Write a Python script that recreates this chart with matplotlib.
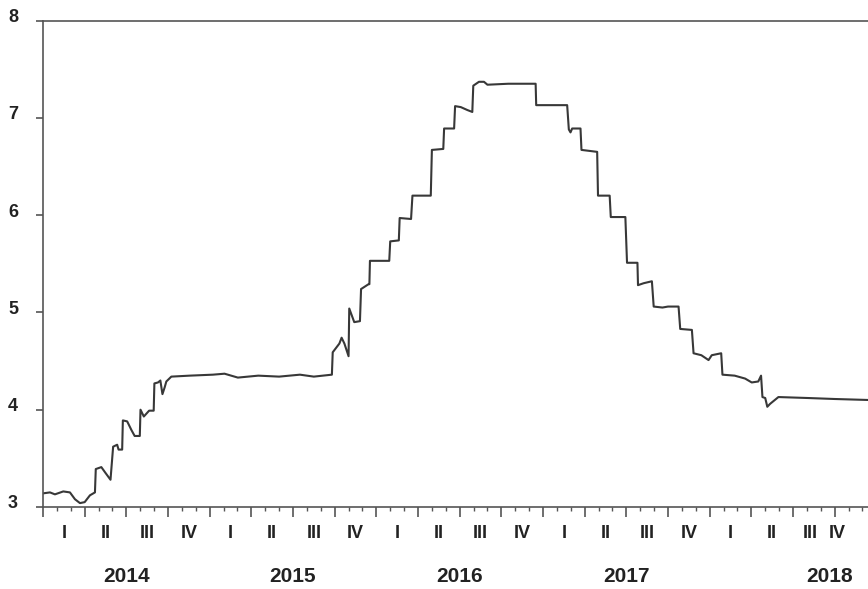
import numpy as np
import matplotlib
matplotlib.use('Agg')
import matplotlib.pyplot as plt
from matplotlib.transforms import ScaledTranslation, blended_transform_factory

# months since Jan 2014 and series value
months = [0.0, 0.5, 0.86, 1.46, 1.94, 2.3, 2.66, 3.0, 3.38, 3.74,
          3.8, 4.2, 4.45, 4.86,
          5.05, 5.34, 5.44, 5.7,
          5.75, 6.06, 6.37, 6.6, 6.97,
          7.02, 7.26, 7.64, 7.97,
          8.02, 8.28, 8.45, 8.6, 8.76, 8.88, 9.24, 10.56, 12.23, 13.07, 14.03,
          15.5, 17.0, 18.5, 19.5, 20.8,
          20.86, 21.34, 21.5, 21.7, 22.0,
          22.05, 22.41, 22.82,
          22.9, 23.44, 23.5,
          23.54, 24.93,
          25.0, 25.62,
          25.68, 26.5,
          26.6, 27.92,
          28.0, 28.82,
          28.88, 29.6,
          29.67, 30.08, 30.55, 30.91,
          30.98, 31.39, 31.75, 32.0, 33.5, 35.47,
          35.51, 37.74,
          37.86, 37.98, 38.1, 38.7,
          38.77, 39.9,
          39.96, 40.8,
          40.88, 41.93,
          42.05, 42.8,
          42.84, 43.25, 43.84,
          43.97, 44.6, 45.0, 45.76,
          45.88, 46.72,
          46.84, 47.4, 47.92, 48.15, 48.83,
          48.92, 49.8, 50.55, 51.03, 51.5, 51.7,
          51.8, 52.0, 52.15, 52.35, 52.95, 55.1, 57.0, 59.4]
values = [3.14, 3.15, 3.13, 3.16, 3.15, 3.08, 3.04, 3.05, 3.12, 3.15,
          3.39, 3.41, 3.36, 3.28,
          3.62, 3.64, 3.59, 3.59,
          3.89, 3.88, 3.79, 3.73, 3.73,
          4.00, 3.93, 3.99, 3.99,
          4.27, 4.28, 4.30, 4.16, 4.23, 4.29, 4.34, 4.35, 4.36, 4.37, 4.33,
          4.35, 4.34, 4.36, 4.34, 4.36,
          4.59, 4.68, 4.74, 4.68, 4.55,
          5.04, 4.90, 4.91,
          5.24, 5.29, 5.29,
          5.53, 5.53,
          5.73, 5.74,
          5.97, 5.96,
          6.20, 6.20,
          6.67, 6.68,
          6.89, 6.89,
          7.12, 7.11, 7.08, 7.06,
          7.33, 7.37, 7.37, 7.34, 7.35, 7.35,
          7.13, 7.13,
          6.88, 6.85, 6.89, 6.89,
          6.67, 6.65,
          6.20, 6.20,
          5.98, 5.98,
          5.51, 5.51,
          5.28, 5.30, 5.32,
          5.06, 5.05, 5.06, 5.06,
          4.83, 4.82,
          4.58, 4.56, 4.51, 4.56, 4.58,
          4.36, 4.35, 4.32, 4.28, 4.29, 4.35,
          4.13, 4.12, 4.03, 4.06, 4.13, 4.12, 4.11, 4.10]

years = ['2014', '2015', '2016', '2017', '2018']
quarters = ['I', 'II', 'III', 'IV']
y_ticks = [3, 4, 5, 6, 7, 8]

text_col = '#222222'
axis_col = '#555555'
font = 'Liberation Sans'

fig = plt.figure(figsize=(8.68, 5.89), dpi=100)
ax = fig.add_axes([43 / 868, 1 - 507 / 589, 1 - 43 / 868, (507 - 20.5) / 589])

ax.plot(months, values, color='#383838', linewidth=1.5)

ax.set_xlim(0, 59.4)
ax.set_ylim(3, 8)

for side in ['left', 'bottom', 'top']:
    ax.spines[side].set_color(axis_col)
    ax.spines[side].set_linewidth(1.2)
ax.spines['right'].set_visible(False)

# y axis: ticks out, labels nudged up a little
ax.set_yticks(y_ticks)
ax.set_yticklabels([str(v) for v in y_ticks], fontsize=13, color=text_col,
                   family=font, fontweight='bold')
ax.tick_params(axis='y', direction='out', length=5, width=1.2, color=axis_col, pad=13)
for lab in ax.get_yticklabels():
    lab.set_transform(lab.get_transform() + ScaledTranslation(0, 5 / 100, fig.dpi_scale_trans))

# x axis: quarter ticks long, month ticks short
ax.set_xticks(np.arange(0, 58, 3))
ax.set_xticks(np.arange(0, 60, 1), minor=True)
ax.set_xticklabels([])
ax.tick_params(axis='x', which='major', direction='out', length=7.5, width=1.2, color=axis_col)
ax.tick_params(axis='x', which='minor', direction='out', length=3, width=1.0, color=axis_col)

trans = blended_transform_factory(ax.transData, fig.transFigure)
q_pos = [1.5 + 3 * i for i in range(18)] + [55.25, 57.2]
for i, x in enumerate(q_pos):
    fig.text(x, 1 - 533 / 589, quarters[i % 4], transform=trans, ha='center', va='center',
             fontsize=13, color=text_col, family=font, fontweight='bold')

yr_pos = [6, 18, 30, 42, 56.6]
for yr, x in zip(years, yr_pos):
    fig.text(x, 1 - 577 / 589, yr, transform=trans, ha='center', va='center',
             fontsize=15, color=text_col, family=font, fontweight='bold')

fig.savefig('out.png', dpi=100)
